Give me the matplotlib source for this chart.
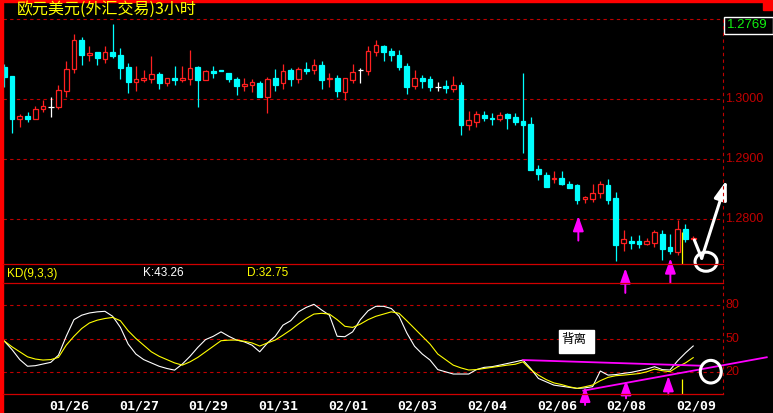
import matplotlib
matplotlib.use('Agg')
import matplotlib.pyplot as plt
from matplotlib.patches import Rectangle, Ellipse
from matplotlib.lines import Line2D
import numpy as np

# ==========================================
# DATA  (EUR/USD, 3 hour bars + KD(9,3,3))
# ==========================================
opens = [1.3054, 1.3038, 1.2966, 1.2972, 1.2967, 1.2983, 1.2987, 1.2987, 1.3014, 1.3050,
         1.3098, 1.3073, 1.3078, 1.3067, 1.3078, 1.3073, 1.3053, 1.3029, 1.3032, 1.3034,
         1.3042, 1.3027, 1.3035, 1.3032, 1.3034, 1.3053, 1.3032, 1.3047, 1.3048, 1.3043,
         1.3033, 1.3021, 1.3024, 1.3027, 1.3003, 1.3035, 1.3027, 1.3048, 1.3034, 1.3050,
         1.3049, 1.3057, 1.3033, 1.3035, 1.3012, 1.3032, 1.3048, 1.3047, 1.3078, 1.3088,
         1.3080, 1.3073, 1.3055, 1.3022, 1.3035, 1.3033, 1.3020, 1.3022, 1.3017, 1.3023,
         1.2957, 1.2962, 1.2973, 1.2968, 1.2967, 1.2975, 1.2970, 1.2963, 1.2958, 1.2883,
         1.2873, 1.2867, 1.2868, 1.2858, 1.2857, 1.2833, 1.2833, 1.2843, 1.2857, 1.2835,
         1.2760, 1.2763, 1.2763, 1.2758, 1.2760, 1.2775, 1.2753, 1.2745, 1.2783, 1.2767]
highs = [1.3058, 1.3038, 1.2975, 1.2979, 1.2988, 1.2999, 1.3003, 1.3023, 1.3063, 1.3108,
         1.3103, 1.3088, 1.3078, 1.3088, 1.3125, 1.3085, 1.3060, 1.3055, 1.3048, 1.3072,
         1.3045, 1.3035, 1.3055, 1.3055, 1.3082, 1.3055, 1.3048, 1.3055, 1.3048, 1.3043,
         1.3036, 1.3035, 1.3033, 1.3030, 1.3036, 1.3050, 1.3058, 1.3052, 1.3053, 1.3062,
         1.3067, 1.3063, 1.3043, 1.3040, 1.3035, 1.3058, 1.3052, 1.3088, 1.3098, 1.3090,
         1.3085, 1.3082, 1.3060, 1.3048, 1.3040, 1.3038, 1.3028, 1.3032, 1.3038, 1.3028,
         1.2980, 1.2980, 1.2980, 1.2977, 1.2978, 1.2977, 1.2977, 1.3043, 1.2970, 1.2890,
         1.2878, 1.2880, 1.2880, 1.2863, 1.2858, 1.2838, 1.2858, 1.2863, 1.2867, 1.2845,
         1.2782, 1.2772, 1.2773, 1.2768, 1.2782, 1.2782, 1.2775, 1.2798, 1.2792, 1.2772]
lows = [1.3020, 1.2944, 1.2953, 1.2962, 1.2966, 1.2979, 1.2970, 1.2984, 1.3004, 1.3044,
        1.3057, 1.3063, 1.3057, 1.3060, 1.3068, 1.3033, 1.3010, 1.3014, 1.3029, 1.3027,
        1.3017, 1.3022, 1.3023, 1.3028, 1.3023, 1.2987, 1.3031, 1.3035, 1.3047, 1.3028,
        1.3007, 1.3014, 1.3012, 1.3003, 1.2976, 1.3014, 1.3017, 1.3022, 1.3027, 1.3042,
        1.3042, 1.3017, 1.3020, 1.3003, 1.2999, 1.3027, 1.3027, 1.3040, 1.3072, 1.3063,
        1.3063, 1.3048, 1.3008, 1.3017, 1.3018, 1.3013, 1.3013, 1.3010, 1.3012, 1.2940,
        1.2948, 1.2953, 1.2963, 1.2957, 1.2963, 1.2950, 1.2957, 1.2910, 1.2882, 1.2865,
        1.2853, 1.2860, 1.2857, 1.2852, 1.2825, 1.2827, 1.2828, 1.2835, 1.2825, 1.2730,
        1.2747, 1.2750, 1.2752, 1.2757, 1.2753, 1.2732, 1.2742, 1.2740, 1.2762, 1.2765]
closes = [1.3037, 1.2966, 1.2972, 1.2967, 1.2983, 1.2988, 1.2987, 1.3015, 1.3050, 1.3098,
          1.3073, 1.3076, 1.3069, 1.3078, 1.3072, 1.3052, 1.3029, 1.3033, 1.3035, 1.3042,
          1.3027, 1.3035, 1.3031, 1.3035, 1.3052, 1.3032, 1.3047, 1.3044, 1.3047, 1.3033,
          1.3021, 1.3025, 1.3028, 1.3003, 1.3033, 1.3023, 1.3047, 1.3033, 1.3050, 1.3047,
          1.3057, 1.3032, 1.3035, 1.3013, 1.3035, 1.3045, 1.3048, 1.3080, 1.3090, 1.3078,
          1.3073, 1.3053, 1.3020, 1.3035, 1.3030, 1.3020, 1.3020, 1.3018, 1.3023, 1.2957,
          1.2965, 1.2975, 1.2968, 1.2967, 1.2973, 1.2968, 1.2962, 1.2957, 1.2882, 1.2875,
          1.2853, 1.2868, 1.2858, 1.2852, 1.2832, 1.2837, 1.2843, 1.2858, 1.2832, 1.2757,
          1.2767, 1.2760, 1.2758, 1.2763, 1.2778, 1.2750, 1.2747, 1.2783, 1.2767, 1.2769]

k_vals = [47.7, 40, 31, 25, 25.5, 27, 28.5, 35, 52, 67,
          71, 73, 74, 74.5, 70, 60, 45, 36, 31, 28,
          25, 23, 21.5, 27, 34, 42, 49, 52, 56, 52,
          48.6, 47, 44, 38, 46, 52, 62, 66, 74, 78,
          80.8, 75.7, 71, 52, 51.6, 56, 67, 75, 79, 79,
          77, 70, 55, 43, 36, 30.6, 22, 20, 18, 18,
          18, 22, 24, 24.6, 26, 27.5, 29, 30.6, 23, 14,
          11, 8, 7, 6, 5, 5.5, 6.6, 20.7, 17, 17.5,
          18.6, 19.5, 21, 22.5, 24.6, 22, 21.6, 30, 37, 43.26]
d_vals = [47.7, 42.5, 38, 33.5, 31.5, 30.6, 31, 33, 44, 52,
          59, 64, 66.5, 68, 69, 66, 57, 50, 44, 38,
          34, 31, 28, 26, 29, 33, 38, 43, 48, 48.5,
          48.6, 47.5, 46, 43.2, 46, 48.6, 53, 57.7, 63, 68,
          72, 72.7, 72, 67, 61, 60, 63, 67, 70, 72,
          74, 72.7, 66, 59, 52, 45, 36, 31, 26, 23.5,
          21.6, 22, 23, 24, 25, 26, 26.8, 29, 22, 17,
          13, 10, 8.5, 6.5, 5.1, 6.5, 8.1, 12, 15, 16.5,
          17, 17.7, 18.4, 20, 22.5, 21, 20.1, 24.6, 28, 32.75]

date_labels = ['01/26', '01/27', '01/29', '01/31', '02/01', '02/03', '02/04', '02/06', '02/08', '02/09']
date_bars = [6, 15, 24, 33, 42, 51, 60, 69, 78, 87]
price_ticks = [1.3000, 1.2900, 1.2800]
kd_ticks = [80, 50, 20]
title = '欧元美元(外汇交易)3小时'
last_price = '1.2769'

# signal arrows (bar index, tip value)
price_arrow_bars = [74.16, 80.23, 86.05]
price_arrow_tips = [1.2805, 1.27178, 1.27345]
kd_arrow_bars = [75.03, 80.32, 85.79]
kd_arrow_tips = [6.6, 12.6, 16.2]

# ==========================================
# LAYOUT / STYLE
# ==========================================
W, H = 773, 413
RED = '#ff2020'
CYAN = '#00ffff'
MAG = '#ff00ff'
DARK = '#c00000'
GRID = '#c00000'
CJK = ['Noto Sans CJK SC', 'DejaVu Sans']
dash = (0, (3, 3))

def fx(px):
    return px / W

def fy(py):
    return 1 - py / H

fig = plt.figure(figsize=(W / 100, H / 100), dpi=100, facecolor='black')

ax1 = fig.add_axes([fx(3), fy(264), 720 / W, 245 / H])
ax2 = fig.add_axes([fx(3), fy(394), 720 / W, 111 / H])
for ax in (ax1, ax2):
    ax.set_axis_off()
    ax.set_xlim(-0.168, 92.85)
ax1.set_ylim(1.27250, 1.313333)
ax2.set_ylim(0, 100)

# ---- candles
x = np.arange(len(opens))
o = np.array(opens); c = np.array(closes)
h = np.array(highs); l = np.array(lows)
up = c > o
dn = c < o
flat = c == o
wick_col = np.where(up, RED, np.where(dn, CYAN, 'white'))
ax1.vlines(x, l, h, colors=wick_col, lw=0.9, zorder=2)
ax1.bar(x[up], (c - o)[up], bottom=o[up], width=0.6, facecolor='black',
        edgecolor=RED, lw=0.9, zorder=3)
ax1.bar(x[dn], (o - c)[dn], bottom=c[dn], width=0.62, color=CYAN,
        edgecolor=CYAN, lw=0.9, zorder=3)
ax1.hlines(o[flat], x[flat] - 0.36, x[flat] + 0.36, colors='white', lw=0.9, zorder=3)

for t in price_ticks:
    ax1.axhline(t, color=GRID, ls=dash, lw=0.8, zorder=1)
    ax1.text(1.003, t, f'{t:.4f}', transform=ax1.get_yaxis_transform(), ha='left',
             va='center', color=DARK, fontsize=9, family='Liberation Sans')
ax1.axhline(1.313333, color=GRID, ls=dash, lw=0.8, clip_on=False)

# ---- KD
ax2.plot(x, k_vals, color='white', lw=0.8, zorder=3)
ax2.plot(x, d_vals, color='yellow', lw=0.8, zorder=3)
for t in kd_ticks:
    ax2.axhline(t, color=GRID, ls=dash, lw=0.8, zorder=1)
    ax2.text(1.003, t, str(t), transform=ax2.get_yaxis_transform(), ha='left',
             va='center', color=DARK, fontsize=9, family='Liberation Sans')

for lab, b in zip(date_labels, date_bars):
    ax2.text(b - 0.2, -0.105, lab, transform=ax2.get_xaxis_transform(), ha='left',
             va='center', color='white', fontsize=9.5, fontweight='bold',
             family='DejaVu Sans Mono')

# divergence lines and note
ax2.plot([67.05, 89.9], [30.6, 25.5], color=MAG, lw=1.3, zorder=4)
ax2.plot([74.8, 98.5], [3.0, 33.1], color=MAG, lw=1.3, zorder=4, clip_on=False)
ax2.add_patch(Rectangle((71.67, 37.2), 4.52, 20.5, color='white', zorder=5))
ax2.text(72.0, 49.5, '背离', color='black', fontsize=9, family=CJK,
         ha='left', va='center', zorder=6)

# cursor marker
ax1.vlines(87.56, 1.2725, 1.27783, colors='yellow', lw=0.9, zorder=4)
ax2.vlines(87.56, 0, 13.5, colors='yellow', lw=0.9, zorder=4)

# magenta signal arrows
head = '-|>,head_length=0.9,head_width=0.32'
for b, tip in zip(price_arrow_bars, price_arrow_tips):
    ax1.annotate('', xy=(b, tip), xytext=(b, tip - 0.0041), annotation_clip=False,
                 arrowprops=dict(arrowstyle=head, color=MAG, lw=1.4, shrinkA=0, shrinkB=0))
for b, tip in zip(kd_arrow_bars, kd_arrow_tips):
    ax2.annotate('', xy=(b, tip), xytext=(b, tip - 16.5), annotation_clip=False,
                 arrowprops=dict(arrowstyle=head, color=MAG, lw=1.4, shrinkA=0, shrinkB=0))

# hand drawn white arrow and circles
ax1.plot([89.15, 90.10], [1.2765, 1.27345], color='white', lw=2.2, clip_on=False,
         solid_capstyle='round', zorder=6)
ax1.annotate('', xy=(93.33, 1.2865), xytext=(90.10, 1.27345), annotation_clip=False,
             arrowprops=dict(arrowstyle='-|>,head_length=1.15,head_width=0.38',
                             color='white', lw=2.2, shrinkA=0, shrinkB=0))
ax1.add_patch(Ellipse((90.66, 1.27288), 2.84, 0.00317, fill=False, ec='white',
                      lw=2.2, clip_on=False, zorder=6))
ax2.add_patch(Ellipse((91.27, 20.1), 2.71, 20.4, fill=False, ec='white',
                      lw=2.2, clip_on=False, zorder=6))

# ---- frame lines, title, labels
fig.add_artist(Rectangle((0, 0), fx(3), 1, color='#ff0000', transform=fig.transFigure))
fig.add_artist(Rectangle((0, fy(2)), 1, 2 / H, color='#ff0000', transform=fig.transFigure))
fig.add_artist(Rectangle((fx(763), fy(10)), 10 / W, 10 / H, color='#ff0000',
                         transform=fig.transFigure))
for py in (264, 283, 394):
    fig.add_artist(Line2D([fx(3), fx(723)], [fy(py), fy(py)], color='#d00000', lw=0.9,
                          transform=fig.transFigure))
fig.add_artist(Line2D([fx(723), fx(723)], [fy(19), fy(394)], color=GRID, lw=0.8,
                      ls=dash, transform=fig.transFigure))

fig.add_artist(Rectangle((fx(723.5), fy(33.5)), 49 / W, 16.5 / H, fill=False, ec='white',
                         lw=1.0, transform=fig.transFigure))
fig.text(fx(727), fy(25.5), last_price, color='#10f010', fontsize=9.5,
         family='Liberation Sans', ha='left', va='center')

fig.text(fx(16.5), fy(9.5), title, color='yellow', fontsize=11.5, family=CJK,
         ha='left', va='center')
fig.text(fx(7), fy(273.5), 'KD(9,3,3)', color='yellow', fontsize=8.5,
         family='Liberation Sans', ha='left', va='center')
fig.text(fx(142.5), fy(273.5), f'K:{k_vals[-1]:.2f}', color='white', fontsize=8.5,
         family='Liberation Sans', ha='left', va='center')
fig.text(fx(247), fy(273.5), f'D:{d_vals[-1]:.2f}', color='yellow', fontsize=8.5,
         family='Liberation Sans', ha='left', va='center')

fig.savefig('out.png', dpi=100, facecolor='black')
